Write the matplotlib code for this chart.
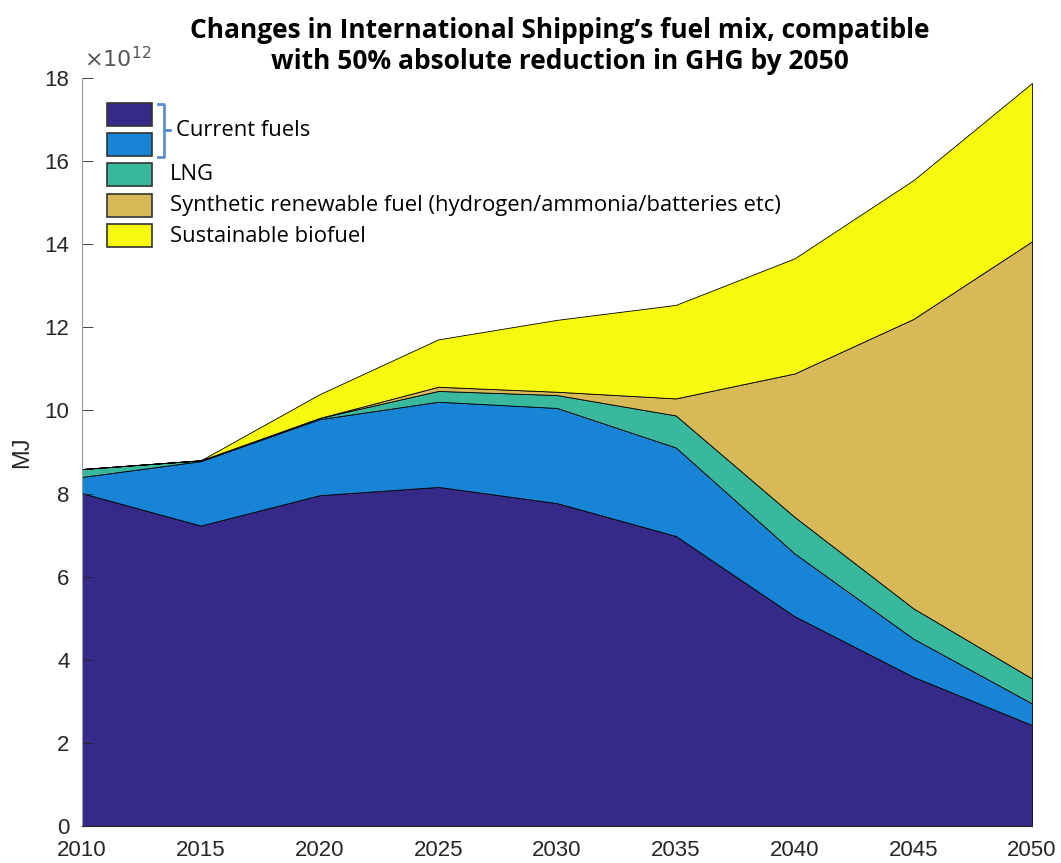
import matplotlib
matplotlib.use("Agg")
import matplotlib.pyplot as plt
from matplotlib.patches import Rectangle
from matplotlib.lines import Line2D

# data (MJ, x1e12)
years = [2010, 2015, 2020, 2025, 2030, 2035, 2040, 2045, 2050]
fuel_a = [8.01, 7.23, 7.96, 8.16, 7.77, 6.98, 5.05, 3.59, 2.43]
fuel_b = [0.39, 1.55, 1.83, 2.05, 2.29, 2.13, 1.51, 0.92, 0.52]
lng = [0.19, 0.02, 0.03, 0.26, 0.31, 0.77, 0.88, 0.73, 0.60]
synthetic = [0.0, 0.0, 0.0, 0.10, 0.08, 0.41, 3.45, 6.96, 10.52]
biofuel = [0.0, 0.0, 0.57, 1.14, 1.73, 2.25, 2.77, 3.34, 3.81]

colors = ['#352A87', '#1784D5', '#38B99E', '#D8B957', '#F8FA0D']
labels = ['', '', 'LNG', 'Synthetic renewable fuel (hydrogen/ammonia/batteries etc)',
          'Sustainable biofuel']
title = 'Changes in International Shipping\u2019s fuel mix, compatible\nwith 50% absolute reduction in GHG by 2050'

W, H = 1061, 863
fig = plt.figure(figsize=(W / 100, H / 100), dpi=100)
ax = fig.add_axes([82 / W, (H - 826) / H, 950 / W, 748 / H])

scale = 1e12
series = [[v * scale for v in s] for s in (fuel_a, fuel_b, lng, synthetic, biofuel)]
ax.stackplot(years, *series, colors=colors, edgecolor='black', linewidth=0.6)

ax.set_xlim(2010, 2050)
ax.set_ylim(0, 18e12)
ax.set_xticks(years)
ax.set_yticks([i * 1e12 for i in range(0, 19, 2)])
ax.set_yticklabels([str(i) for i in range(0, 19, 2)])
ax.tick_params(axis='y', direction='in', length=8, colors='#262626', labelsize=16,
               width=0.6, pad=9)
ax.tick_params(axis='x', length=0, colors='#262626', labelsize=16, pad=10)
for lab in ax.get_xticklabels() + ax.get_yticklabels():
    lab.set_family('Liberation Sans')
for s in ('top', 'right'):
    ax.spines[s].set_visible(False)
ax.spines['left'].set_color('#999999')
ax.spines['bottom'].set_color('#262626')
ax.set_ylabel('MJ', fontsize=17, family='Liberation Sans', color='#262626', labelpad=8)

fig.text(84 / W, 1 - 60 / H, r'$\times10^{12}$', fontsize=16, color='#555555',
         family='Liberation Sans', va='center', ha='left')

fig.text(560 / W, 1 - 46 / H, title, fontsize=19, fontweight='bold', family='Open Sans',
         ha='center', va='center', linespacing=1.15)

# legend drawn by hand with the bracket for current fuels
box_tops = [103, 133, 163, 194, 224]
text_y = [None, None, 174, 205, 237]
for top, c, lab, ty in zip(box_tops, colors, labels, text_y):
    r = Rectangle((107 / W, 1 - (top + 23) / H), 45 / W, 23 / H, transform=fig.transFigure,
                  facecolor=c, edgecolor='#333333', linewidth=1.2)
    fig.add_artist(r)
    if lab:
        fig.text(170 / W, 1 - ty / H, lab, fontsize=15.8, family='Open Sans',
                 va='center', ha='left')

bx = [158, 164, 164, 170, 164, 164, 158]
by = [104, 104, 130, 130, 130, 157, 157]
fig.add_artist(Line2D([x / W for x in bx], [1 - y / H for y in by], transform=fig.transFigure,
                      color='#5B8FD0', linewidth=2, solid_joinstyle='round'))
fig.text(176 / W, 1 - 130 / H, 'Current fuels', fontsize=15.8, family='Open Sans',
         va='center', ha='left')

fig.savefig('out.png', dpi=100)
